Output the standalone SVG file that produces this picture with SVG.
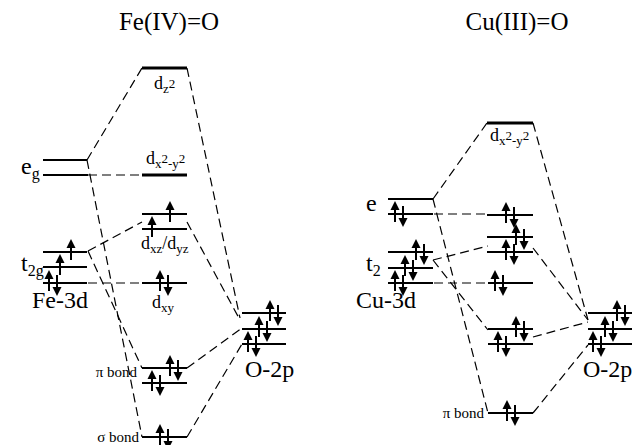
<svg xmlns="http://www.w3.org/2000/svg" xmlns:xlink="http://www.w3.org/1999/xlink" width="635" height="445" viewBox="0 0 635 445">
<style>
.lv{stroke:#000;stroke-width:2.2;fill:none}
.lvt{stroke:#000;stroke-width:3;fill:none}
.dash{stroke:#000;stroke-width:1.2;fill:none;stroke-dasharray:9,5}
.t{font-family:"Liberation Serif","Times New Roman",serif;fill:#000}
.title{font-size:25px}
.big{font-size:24px}
.sub{font-size:16px}
.orb{font-size:18px}
.ss{font-size:13px}
.bond{font-size:15px}
</style>
<defs>
<g id="u"><line x1="0" y1="8" x2="0" y2="-5" stroke="#000" stroke-width="2"/><polygon points="0,-13 -4.5,-4 4.5,-4" fill="#000"/></g>
<g id="d"><line x1="0" y1="-8" x2="0" y2="5" stroke="#000" stroke-width="2"/><polygon points="0,13 -4.5,4 4.5,4" fill="#000"/></g>
<g id="p"><use xlink:href="#u"/><use xlink:href="#d" x="8"/></g>
</defs>
<rect width="635" height="445" fill="#fff"/>

<text class="t title" x="169" y="30" text-anchor="middle">Fe(IV)=O</text>
<text class="t title" x="517" y="30" text-anchor="middle">Cu(III)=O</text>

<g id="connectors">
<path class="dash" d="M87,160 L142,68"/>
<path class="dash" d="M87,160 L142,437"/>
<path class="dash" d="M88,175 L142,175"/>
<path class="dash" d="M88,251 L142,222"/>
<path class="dash" d="M88,251 L142,368"/>
<path class="dash" d="M88,283 L142,283"/>
<path class="dash" d="M187,68 L240,318"/>
<path class="dash" d="M187,222 L240,320"/>
<path class="dash" d="M187,368 L242,328"/>
<path class="dash" d="M187,437 L242,344"/>
<path class="dash" d="M433,199 L487,123"/>
<path class="dash" d="M433,199 L488,413"/>
<path class="dash" d="M434,214 L487,214"/>
<path class="dash" d="M433,260 L488,246"/>
<path class="dash" d="M433,260 L488,330"/>
<path class="dash" d="M434,283 L487,283"/>
<path class="dash" d="M533,123 L588,320"/>
<path class="dash" d="M533,248 L588,320"/>
<path class="dash" d="M533,337 L588,322"/>
<path class="dash" d="M533,413 L588,345"/>
</g>

<g id="fe-eg">
<path class="lv" d="M43,160 H87 M43,175 H88"/>
<text class="t big" x="21" y="174">e<tspan class="sub" dy="5">g</tspan></text>
</g>
<g id="fe-t2g">
<path class="lv" d="M43,252 H87 M43,267 H87 M43,283 H87"/>
<use xlink:href="#u" x="71" y="252"/>
<use xlink:href="#u" x="60" y="267"/>
<use xlink:href="#p" x="49" y="283"/>
<text class="t big" x="21" y="271">t<tspan class="sub" dy="5">2g</tspan></text>
</g>
<text id="fe-3d" class="t big" x="32" y="308">Fe-3d</text>

<g id="fe-dz2">
<path class="lvt" d="M142,68 H187"/>
<text class="t orb" x="154" y="89">d<tspan class="ss" dy="4">z</tspan><tspan class="ss" dy="-5">2</tspan></text>
</g>
<g id="fe-dx2y2">
<path class="lvt" d="M142,175 H187"/>
<text class="t orb" x="146" y="164">d<tspan class="ss" dy="4">x</tspan><tspan class="ss" dy="-5">2</tspan><tspan class="ss" dy="5">-y</tspan><tspan class="ss" dy="-5">2</tspan></text>
</g>
<g id="fe-dxz">
<path class="lv" d="M142,214 H187 M142,229 H187"/>
<use xlink:href="#u" x="170" y="214"/>
<use xlink:href="#u" x="152" y="229"/>
<text class="t orb" x="141" y="249">d<tspan class="ss" dy="4">xz</tspan><tspan dy="-4">/d</tspan><tspan class="ss" dy="4">yz</tspan></text>
</g>
<g id="fe-dxy">
<path class="lv" d="M142,283 H187"/>
<use xlink:href="#p" x="160" y="283"/>
<text class="t orb" x="152" y="308">d<tspan class="ss" dy="4">xy</tspan></text>
</g>
<g id="fe-pi">
<path class="lv" d="M142,368 H187 M142,383 H187"/>
<use xlink:href="#p" x="170" y="368"/>
<use xlink:href="#p" x="152" y="383"/>
<text class="t bond" x="137" y="377" text-anchor="end">π bond</text>
</g>
<g id="fe-sigma">
<path class="lv" d="M142,437 H187"/>
<use xlink:href="#p" x="160" y="437"/>
<text class="t bond" x="139" y="442" text-anchor="end">σ bond</text>
</g>
<g id="fe-o2p">
<path class="lv" d="M242,313 H286 M242,329 H286 M242,344 H286"/>
<use xlink:href="#p" x="270" y="313"/>
<use xlink:href="#p" x="259" y="329"/>
<use xlink:href="#p" x="248" y="344"/>
<text class="t big" x="245" y="377">O-2p</text>
</g>

<g id="cu-e">
<path class="lv" d="M388,199 H433 M388,214 H433"/>
<use xlink:href="#p" x="395" y="214"/>
<text class="t big" x="366" y="211">e</text>
</g>
<g id="cu-t2">
<path class="lv" d="M388,252 H433 M388,268 H433 M388,283 H433"/>
<use xlink:href="#p" x="416" y="252"/>
<use xlink:href="#p" x="405" y="268"/>
<use xlink:href="#p" x="395" y="283"/>
<text class="t big" x="366" y="271">t<tspan class="sub" dy="5">2</tspan></text>
</g>
<text id="cu-3d" class="t big" x="356" y="308">Cu-3d</text>

<g id="cu-dx2y2">
<path class="lvt" d="M487,123 H533"/>
<text class="t orb" x="490" y="141">d<tspan class="ss" dy="4">x</tspan><tspan class="ss" dy="-5">2</tspan><tspan class="ss" dy="5">-y</tspan><tspan class="ss" dy="-5">2</tspan></text>
</g>
<g id="cu-mo1">
<path class="lv" d="M487,215 H533"/>
<use xlink:href="#p" x="506" y="215"/>
</g>
<g id="cu-mo2">
<path class="lv" d="M487,237 H533 M487,252 H533"/>
<use xlink:href="#p" x="516" y="237"/>
<use xlink:href="#p" x="506" y="252"/>
</g>
<g id="cu-mo3">
<path class="lv" d="M488,283 H533"/>
<use xlink:href="#p" x="495" y="283"/>
</g>
<g id="cu-mo4">
<path class="lv" d="M488,329 H533 M488,344 H533"/>
<use xlink:href="#p" x="516" y="329"/>
<use xlink:href="#p" x="498" y="344"/>
</g>
<g id="cu-pi">
<path class="lv" d="M488,413 H533"/>
<use xlink:href="#p" x="507" y="413"/>
<text class="t bond" x="484" y="418" text-anchor="end">π bond</text>
</g>
<g id="cu-o2p">
<path class="lv" d="M588,313 H632 M588,329 H632 M588,344 H632"/>
<use xlink:href="#p" x="617" y="313"/>
<use xlink:href="#p" x="605" y="329"/>
<use xlink:href="#p" x="593" y="344"/>
<text class="t big" x="583" y="377">O-2p</text>
</g>
</svg>
